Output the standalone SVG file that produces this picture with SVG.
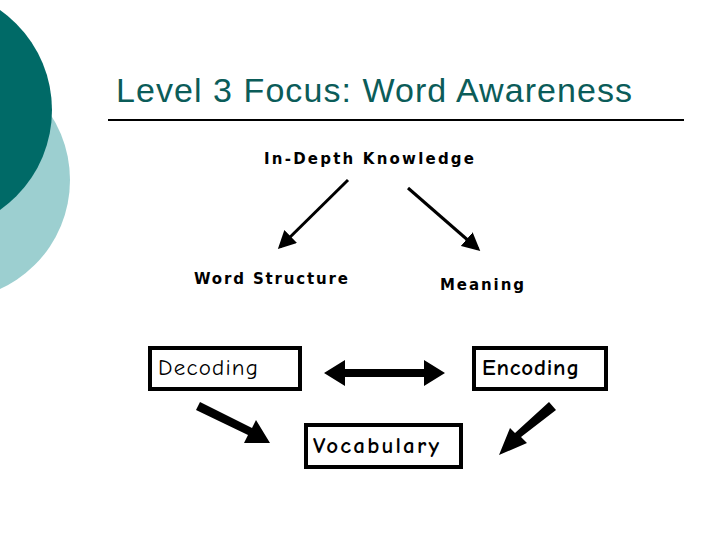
<svg xmlns="http://www.w3.org/2000/svg" width="720" height="540" viewBox="0 0 720 540">
<style>
.box{fill:#fff;stroke:#000;stroke-width:4}
.lbl{font-family:"DejaVu Sans",sans-serif;font-weight:bold;font-size:15px;fill:#000}
.cs{font-family:"Comic Neue","DejaVu Sans",sans-serif;font-size:23px;fill:#000}
</style>
<defs>
<marker id="ah" markerWidth="6" markerHeight="6" refX="5" refY="3" orient="auto" markerUnits="strokeWidth"><path d="M0,0 L6,3 L0,6 z" fill="#000"/></marker>
</defs>
<rect width="720" height="540" fill="#fff"/>
<circle cx="-50" cy="180" r="120" fill="#9ccfd0"/>
<circle cx="-70" cy="110" r="122" fill="#006a67"/>
<text x="116" y="102" font-family="Liberation Sans,sans-serif" font-size="34" fill="#0b5c59" textLength="516">Level 3 Focus: Word Awareness</text>
<line x1="108" y1="120" x2="684" y2="120" stroke="#000" stroke-width="2"/>
<g id="in-depth"><text class="lbl" x="369" y="164" text-anchor="middle" textLength="210">In-Depth Knowledge</text></g>
<g id="word-structure"><text class="lbl" x="271" y="284" text-anchor="middle" textLength="154">Word Structure</text></g>
<g id="meaning"><text class="lbl" x="482" y="290" text-anchor="middle" textLength="84">Meaning</text></g>
<g id="decoding"><rect class="box" x="150" y="348" width="150" height="41"/><text class="cs" x="158" y="375" textLength="100">Decoding</text></g>
<g id="encoding"><rect class="box" x="474" y="348" width="132" height="41"/><text class="cs" x="482" y="375" font-weight="bold" textLength="97">Encoding</text></g>
<g id="vocabulary"><rect class="box" x="306" y="425" width="155" height="42"/><text class="cs" x="313" y="453" font-weight="bold" textLength="126">Vocabulary</text></g>
<g id="connectors">
<line x1="348" y1="180" x2="280" y2="247" stroke="#000" stroke-width="3" marker-end="url(#ah)"/>
<line x1="408" y1="188" x2="478" y2="249" stroke="#000" stroke-width="3" marker-end="url(#ah)"/>
<polygon points="324,373 345,360 345,369 424,369 424,360 445,373 424,386 424,377 345,377 345,386" fill="#000"/>
<polygon points="196,410 200,402 252,428 256,420 270,443 244,443 248,435" fill="#000"/>
<polygon points="549,402 556,410 521,437 527,443 499,455 510,428 515,433" fill="#000"/>
</g>
</svg>
